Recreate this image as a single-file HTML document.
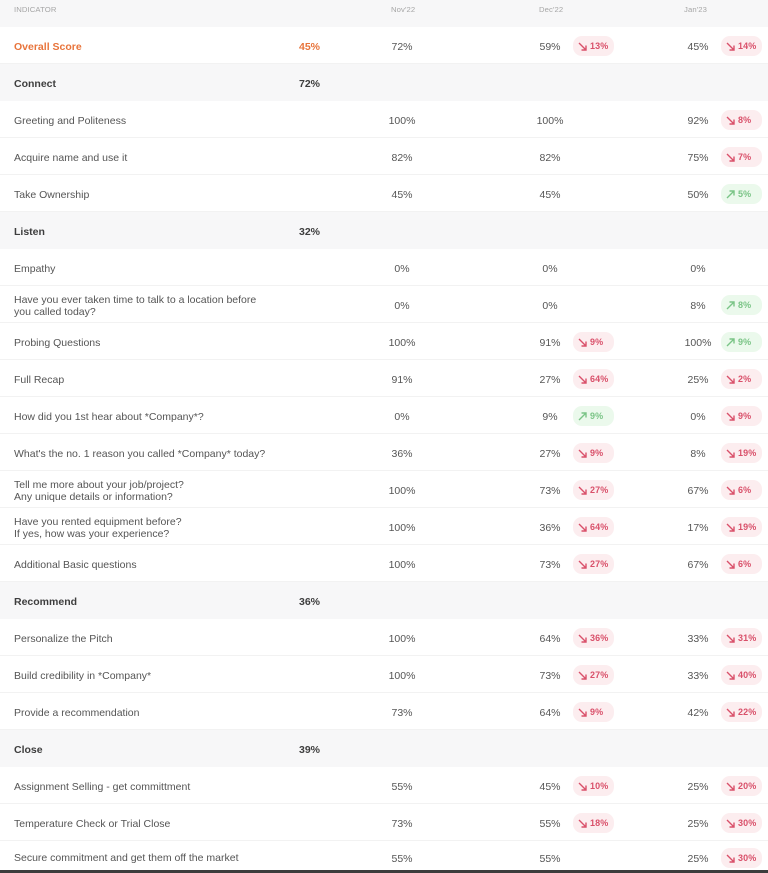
<!DOCTYPE html>
<html><head><meta charset="utf-8"><style>
*{margin:0;padding:0;box-sizing:border-box}
html,body{width:768px;height:873px;overflow:hidden;background:#fff;font-family:"Liberation Sans",Arial,sans-serif;color:#555}
.wrap{position:relative;width:768px;height:873px}
.hdr{position:absolute;left:0;top:0;width:768px;height:27px;background:#f7f7f8;font-size:7.7px;color:#a6a6a6;letter-spacing:0.1px}
.hdr span{position:absolute;top:1px;line-height:18px}
.row{position:absolute;left:0;width:768px;height:37px;border-bottom:1px solid #f2f2f2;font-size:10.5px}
.row.sec{background:#f7f7f8;border-bottom:none}
.lab{position:absolute;left:14px;top:1.5px;height:37px;display:flex;align-items:center;line-height:12.5px}
.sec .lab,.sec .sp{font-weight:bold;color:#3e3e3e}
.ov .lab,.ov .sp{font-weight:bold;color:#e8743b}
.sp{position:absolute;left:299px;top:1.5px;line-height:37px}
.v{position:absolute;top:1.5px;line-height:37px;width:50px;text-align:center}
.c1{left:377px}.c2{left:525px}.c3{left:673px}
.b{position:absolute;top:9px;height:20px;width:41px;border-radius:9px;font-size:9px;font-weight:bold;line-height:20px;padding-left:17px;letter-spacing:0.1px}
.b svg{position:absolute;left:5px;top:5.5px}
.r{background:#fcedef;color:#d9506a}
.g{background:#ebf9ec;color:#7ac486}
.b2{left:573px}.b3{left:721px}
.bar{position:absolute;left:0;top:870px;width:768px;height:3px;background:#3c3c3c}
</style></head><body><div class="wrap">
<div class="hdr"><span style="left:14px">INDICATOR</span><span style="left:391px">Nov'22</span><span style="left:539px">Dec'22</span><span style="left:684px">Jan'23</span></div>

<div class="row ov" style="top:27px"><div class="lab">Overall Score</div><div class="sp">45%</div><div class="v c1">72%</div><div class="v c2">59%</div><div class="b r b2"><svg width="9" height="9" viewBox="0 0 9 9"><path d="M1 1L8 8M3.5 8H8V3.5" stroke="#d9506a" stroke-width="1.4" fill="none"/></svg>13%</div><div class="v c3">45%</div><div class="b r b3"><svg width="9" height="9" viewBox="0 0 9 9"><path d="M1 1L8 8M3.5 8H8V3.5" stroke="#d9506a" stroke-width="1.4" fill="none"/></svg>14%</div></div>

<div class="row sec" style="top:64px"><div class="lab">Connect</div><div class="sp">72%</div></div>

<div class="row" style="top:101px"><div class="lab">Greeting and Politeness</div><div class="v c1">100%</div><div class="v c2">100%</div><div class="v c3">92%</div><div class="b r b3"><svg width="9" height="9" viewBox="0 0 9 9"><path d="M1 1L8 8M3.5 8H8V3.5" stroke="#d9506a" stroke-width="1.4" fill="none"/></svg>8%</div></div>

<div class="row" style="top:138px"><div class="lab">Acquire name and use it</div><div class="v c1">82%</div><div class="v c2">82%</div><div class="v c3">75%</div><div class="b r b3"><svg width="9" height="9" viewBox="0 0 9 9"><path d="M1 1L8 8M3.5 8H8V3.5" stroke="#d9506a" stroke-width="1.4" fill="none"/></svg>7%</div></div>

<div class="row" style="top:175px"><div class="lab">Take Ownership</div><div class="v c1">45%</div><div class="v c2">45%</div><div class="v c3">50%</div><div class="b g b3"><svg width="9" height="9" viewBox="0 0 9 9"><path d="M1 8L8 1M3.5 1H8V5.5" stroke="#7ac486" stroke-width="1.4" fill="none"/></svg>5%</div></div>

<div class="row sec" style="top:212px"><div class="lab">Listen</div><div class="sp">32%</div></div>

<div class="row" style="top:249px"><div class="lab">Empathy</div><div class="v c1">0%</div><div class="v c2">0%</div><div class="v c3">0%</div></div>

<div class="row" style="top:286px"><div class="lab">Have you ever taken time to talk to a location before<br>you called today?</div><div class="v c1">0%</div><div class="v c2">0%</div><div class="v c3">8%</div><div class="b g b3"><svg width="9" height="9" viewBox="0 0 9 9"><path d="M1 8L8 1M3.5 1H8V5.5" stroke="#7ac486" stroke-width="1.4" fill="none"/></svg>8%</div></div>

<div class="row" style="top:323px"><div class="lab">Probing Questions</div><div class="v c1">100%</div><div class="v c2">91%</div><div class="b r b2"><svg width="9" height="9" viewBox="0 0 9 9"><path d="M1 1L8 8M3.5 8H8V3.5" stroke="#d9506a" stroke-width="1.4" fill="none"/></svg>9%</div><div class="v c3">100%</div><div class="b g b3"><svg width="9" height="9" viewBox="0 0 9 9"><path d="M1 8L8 1M3.5 1H8V5.5" stroke="#7ac486" stroke-width="1.4" fill="none"/></svg>9%</div></div>

<div class="row" style="top:360px"><div class="lab">Full Recap</div><div class="v c1">91%</div><div class="v c2">27%</div><div class="b r b2"><svg width="9" height="9" viewBox="0 0 9 9"><path d="M1 1L8 8M3.5 8H8V3.5" stroke="#d9506a" stroke-width="1.4" fill="none"/></svg>64%</div><div class="v c3">25%</div><div class="b r b3"><svg width="9" height="9" viewBox="0 0 9 9"><path d="M1 1L8 8M3.5 8H8V3.5" stroke="#d9506a" stroke-width="1.4" fill="none"/></svg>2%</div></div>

<div class="row" style="top:397px"><div class="lab">How did you 1st hear about *Company*?</div><div class="v c1">0%</div><div class="v c2">9%</div><div class="b g b2"><svg width="9" height="9" viewBox="0 0 9 9"><path d="M1 8L8 1M3.5 1H8V5.5" stroke="#7ac486" stroke-width="1.4" fill="none"/></svg>9%</div><div class="v c3">0%</div><div class="b r b3"><svg width="9" height="9" viewBox="0 0 9 9"><path d="M1 1L8 8M3.5 8H8V3.5" stroke="#d9506a" stroke-width="1.4" fill="none"/></svg>9%</div></div>

<div class="row" style="top:434px"><div class="lab">What's the no. 1 reason you called *Company* today?</div><div class="v c1">36%</div><div class="v c2">27%</div><div class="b r b2"><svg width="9" height="9" viewBox="0 0 9 9"><path d="M1 1L8 8M3.5 8H8V3.5" stroke="#d9506a" stroke-width="1.4" fill="none"/></svg>9%</div><div class="v c3">8%</div><div class="b r b3"><svg width="9" height="9" viewBox="0 0 9 9"><path d="M1 1L8 8M3.5 8H8V3.5" stroke="#d9506a" stroke-width="1.4" fill="none"/></svg>19%</div></div>

<div class="row" style="top:471px"><div class="lab">Tell me more about your job/project?<br>Any unique details or information?</div><div class="v c1">100%</div><div class="v c2">73%</div><div class="b r b2"><svg width="9" height="9" viewBox="0 0 9 9"><path d="M1 1L8 8M3.5 8H8V3.5" stroke="#d9506a" stroke-width="1.4" fill="none"/></svg>27%</div><div class="v c3">67%</div><div class="b r b3"><svg width="9" height="9" viewBox="0 0 9 9"><path d="M1 1L8 8M3.5 8H8V3.5" stroke="#d9506a" stroke-width="1.4" fill="none"/></svg>6%</div></div>

<div class="row" style="top:508px"><div class="lab">Have you rented equipment before?<br>If yes, how was your experience?</div><div class="v c1">100%</div><div class="v c2">36%</div><div class="b r b2"><svg width="9" height="9" viewBox="0 0 9 9"><path d="M1 1L8 8M3.5 8H8V3.5" stroke="#d9506a" stroke-width="1.4" fill="none"/></svg>64%</div><div class="v c3">17%</div><div class="b r b3"><svg width="9" height="9" viewBox="0 0 9 9"><path d="M1 1L8 8M3.5 8H8V3.5" stroke="#d9506a" stroke-width="1.4" fill="none"/></svg>19%</div></div>

<div class="row" style="top:545px"><div class="lab">Additional Basic questions</div><div class="v c1">100%</div><div class="v c2">73%</div><div class="b r b2"><svg width="9" height="9" viewBox="0 0 9 9"><path d="M1 1L8 8M3.5 8H8V3.5" stroke="#d9506a" stroke-width="1.4" fill="none"/></svg>27%</div><div class="v c3">67%</div><div class="b r b3"><svg width="9" height="9" viewBox="0 0 9 9"><path d="M1 1L8 8M3.5 8H8V3.5" stroke="#d9506a" stroke-width="1.4" fill="none"/></svg>6%</div></div>

<div class="row sec" style="top:582px"><div class="lab">Recommend</div><div class="sp">36%</div></div>

<div class="row" style="top:619px"><div class="lab">Personalize the Pitch</div><div class="v c1">100%</div><div class="v c2">64%</div><div class="b r b2"><svg width="9" height="9" viewBox="0 0 9 9"><path d="M1 1L8 8M3.5 8H8V3.5" stroke="#d9506a" stroke-width="1.4" fill="none"/></svg>36%</div><div class="v c3">33%</div><div class="b r b3"><svg width="9" height="9" viewBox="0 0 9 9"><path d="M1 1L8 8M3.5 8H8V3.5" stroke="#d9506a" stroke-width="1.4" fill="none"/></svg>31%</div></div>

<div class="row" style="top:656px"><div class="lab">Build credibility in *Company*</div><div class="v c1">100%</div><div class="v c2">73%</div><div class="b r b2"><svg width="9" height="9" viewBox="0 0 9 9"><path d="M1 1L8 8M3.5 8H8V3.5" stroke="#d9506a" stroke-width="1.4" fill="none"/></svg>27%</div><div class="v c3">33%</div><div class="b r b3"><svg width="9" height="9" viewBox="0 0 9 9"><path d="M1 1L8 8M3.5 8H8V3.5" stroke="#d9506a" stroke-width="1.4" fill="none"/></svg>40%</div></div>

<div class="row" style="top:693px"><div class="lab">Provide a recommendation</div><div class="v c1">73%</div><div class="v c2">64%</div><div class="b r b2"><svg width="9" height="9" viewBox="0 0 9 9"><path d="M1 1L8 8M3.5 8H8V3.5" stroke="#d9506a" stroke-width="1.4" fill="none"/></svg>9%</div><div class="v c3">42%</div><div class="b r b3"><svg width="9" height="9" viewBox="0 0 9 9"><path d="M1 1L8 8M3.5 8H8V3.5" stroke="#d9506a" stroke-width="1.4" fill="none"/></svg>22%</div></div>

<div class="row sec" style="top:730px"><div class="lab">Close</div><div class="sp">39%</div></div>

<div class="row" style="top:767px"><div class="lab">Assignment Selling - get committment</div><div class="v c1">55%</div><div class="v c2">45%</div><div class="b r b2"><svg width="9" height="9" viewBox="0 0 9 9"><path d="M1 1L8 8M3.5 8H8V3.5" stroke="#d9506a" stroke-width="1.4" fill="none"/></svg>10%</div><div class="v c3">25%</div><div class="b r b3"><svg width="9" height="9" viewBox="0 0 9 9"><path d="M1 1L8 8M3.5 8H8V3.5" stroke="#d9506a" stroke-width="1.4" fill="none"/></svg>20%</div></div>

<div class="row" style="top:804px"><div class="lab">Temperature Check or Trial Close</div><div class="v c1">73%</div><div class="v c2">55%</div><div class="b r b2"><svg width="9" height="9" viewBox="0 0 9 9"><path d="M1 1L8 8M3.5 8H8V3.5" stroke="#d9506a" stroke-width="1.4" fill="none"/></svg>18%</div><div class="v c3">25%</div><div class="b r b3"><svg width="9" height="9" viewBox="0 0 9 9"><path d="M1 1L8 8M3.5 8H8V3.5" stroke="#d9506a" stroke-width="1.4" fill="none"/></svg>30%</div></div>

<div class="row" style="top:839px;height:32px;border-bottom:none"><div class="lab" style="height:36px">Secure commitment and get them off the market</div><div class="v c1">55%</div><div class="v c2">55%</div><div class="v c3">25%</div><div class="b r b3"><svg width="9" height="9" viewBox="0 0 9 9"><path d="M1 1L8 8M3.5 8H8V3.5" stroke="#d9506a" stroke-width="1.4" fill="none"/></svg>30%</div></div>

<div class="bar"></div>
</div></body></html>
